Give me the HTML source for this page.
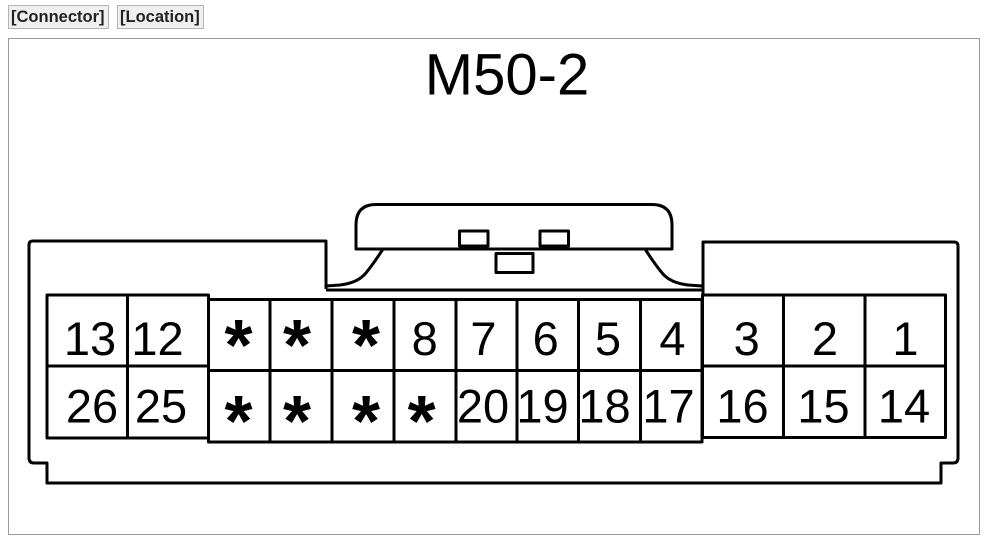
<!DOCTYPE html>
<html><head><meta charset="utf-8"><style>
html,body{margin:0;padding:0;background:#fff;width:988px;height:547px;overflow:hidden;}
.btn{position:absolute;top:5px;height:24px;box-sizing:border-box;border:1px solid #b4b4b4;background:#efefef;font:bold 16.5px "Liberation Sans",Arial,sans-serif;color:#222;line-height:22px;padding:0 2px;white-space:nowrap;}
#frame{position:absolute;left:8px;top:38px;width:972px;height:497px;box-sizing:border-box;border:1px solid #9a9a9a;}
svg{position:absolute;left:0;top:0;}
</style></head><body>
<div class="btn" style="left:8px;width:101px;">[Connector]</div>
<div class="btn" style="left:117px;width:87px;">[Location]</div>
<div id="frame"></div>
<svg width="988" height="547" viewBox="0 0 988 547" xmlns="http://www.w3.org/2000/svg">
<text x="507" y="94.5" font-family="Liberation Sans, Arial, sans-serif" font-size="58" text-anchor="middle" fill="#000">M50-2</text>
<g fill="none" stroke="#000" stroke-width="3" stroke-linejoin="round">
<path d="M326,289 L326,241 L33,241 Q29,241 29,245 L29,458 Q29,463 34,463 L47,463 L47,483 L941,483 L941,463 L953,463 Q958,463 958,458 L958,246 Q958,242 954,242 L703,242 L703,294"/>
<path d="M356,249 L356,225 Q356,204.5 376,204.5 L652,204.5 Q672,204.5 672,225 L672,249 Z"/>
<rect x="459.5" y="231" width="28.5" height="15"/>
<rect x="540" y="231" width="28.5" height="15"/>
<rect x="496" y="253.5" width="37" height="19"/>
<path d="M383,249 Q372,266 365,274 Q357,283 340,285 L326,286"/>
<path d="M645,249 Q656,266 663,274 Q671,283 688,285 L702,286"/>
<line x1="326" y1="290" x2="702" y2="290"/>
<rect x="47" y="295" width="161.5" height="143"/>
<line x1="127.5" y1="295" x2="127.5" y2="438"/>
<line x1="47" y1="366" x2="208.5" y2="366"/>
<rect x="208.5" y="299.5" width="493.5" height="142.5"/>
<line x1="208.5" y1="370.5" x2="702" y2="370.5"/>
<line x1="270" y1="299.5" x2="270" y2="442"/>
<line x1="332" y1="299.5" x2="332" y2="442"/>
<line x1="394" y1="299.5" x2="394" y2="442"/>
<line x1="456" y1="299.5" x2="456" y2="442"/>
<line x1="517" y1="299.5" x2="517" y2="442"/>
<line x1="578.5" y1="299.5" x2="578.5" y2="442"/>
<line x1="640.5" y1="299.5" x2="640.5" y2="442"/>
<rect x="702.5" y="295" width="243" height="142.5"/>
<line x1="783.5" y1="295" x2="783.5" y2="437.5"/>
<line x1="865" y1="295" x2="865" y2="437.5"/>
<line x1="702.5" y1="366" x2="945.5" y2="366"/>
</g>
<g font-family="Liberation Sans, Arial, sans-serif" font-size="47" text-anchor="middle" fill="#000">
<text x="90" y="355">13</text>
<text x="157.5" y="355">12</text>
<text x="424.7" y="355">8</text>
<text x="483.5" y="355">7</text>
<text x="545.7" y="355">6</text>
<text x="608" y="355">5</text>
<text x="672.5" y="355">4</text>
<text x="746.7" y="355">3</text>
<text x="825" y="355">2</text>
<text x="905.5" y="355">1</text>
<text x="92" y="422.5">26</text>
<text x="161" y="422.5">25</text>
<text x="483" y="422.5">20</text>
<text x="542.5" y="422.5">19</text>
<text x="604.5" y="422.5">18</text>
<text x="668.5" y="422.5">17</text>
<text x="742.5" y="422.5">16</text>
<text x="823.5" y="422.5">15</text>
<text x="904" y="422.5">14</text>
</g>
<g font-family="Liberation Sans, Arial, sans-serif" font-size="72" font-weight="bold" text-anchor="middle" fill="#000">
<text x="238.5" y="370">*</text>
<text x="297" y="370">*</text>
<text x="366" y="370">*</text>
<text x="238.5" y="446">*</text>
<text x="297" y="446">*</text>
<text x="366" y="446">*</text>
<text x="421.7" y="446">*</text>
</g>
</svg>
</body></html>
